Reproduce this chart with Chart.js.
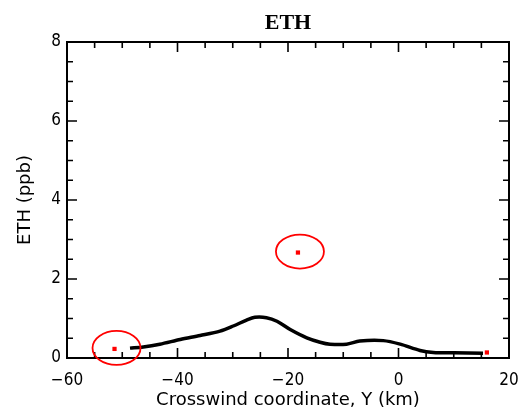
<!DOCTYPE html>
<html>
<head>
<meta charset="utf-8">
<script src="https://cdn.jsdelivr.net/npm/chart.js@4"></script>
<style>
  html, body { margin: 0; padding: 0; background: #fff; }
  #c { display: block; }
</style>
</head>
<body>
<canvas id="c" width="521" height="411"></canvas>
<script>
// ETH-Profil entlang der Querwind-Koordinate
const crossX = [-48.6, -46.2, -43.2, -39.5, -35.9, -32.3, -29.9, -27.5, -26.0, -23.9, -22.0, -19.6, -16.6, -14.2, -12.4, -9.4, -7.0, -2.75, 0.3, 3.9, 6.3, 10.0, 15.3];
const ethPpb = [0.25, 0.28, 0.35, 0.47, 0.57, 0.68, 0.81, 0.96, 1.03, 1.02, 0.93, 0.72, 0.51, 0.40, 0.35, 0.35, 0.43, 0.44, 0.35, 0.19, 0.14, 0.13, 0.12];

// Messpunkte (rot)
const sampleX = [-51.4, -18.2, 16.0];
const sampleY = [0.23, 2.67, 0.14];

// Achsen
const xTickLabels = [-60, -40, -20, 0, 20];
const yTickLabels = [0, 2, 4, 6, 8];

const FONT = "'DejaVu Sans Condensed', 'DejaVu Sans', sans-serif";
const TITLE_FONT = "'DejaVu Sans', sans-serif";

// Rahmen mit nach innen zeigenden Ticks, Titel und Ellipsen
const frame = {
  id: 'frame',
  afterDraw(chart) {
    const { ctx, chartArea: a, scales: { x, y } } = chart;
    ctx.save();
    ctx.strokeStyle = '#000';
    ctx.lineWidth = 2;
    ctx.strokeRect(a.left, a.top, a.right - a.left, a.bottom - a.top);
    ctx.lineWidth = 1.6;
    ctx.beginPath();
    x.ticks.forEach(t => {
      const px = x.getPixelForValue(t.value);
      const len = xTickLabels.includes(t.value) ? 10 : 6;
      ctx.moveTo(px, a.bottom); ctx.lineTo(px, a.bottom - len);
      ctx.moveTo(px, a.top); ctx.lineTo(px, a.top + len);
    });
    y.ticks.forEach(t => {
      const py = y.getPixelForValue(t.value);
      const len = yTickLabels.includes(t.value) ? 10 : 6;
      ctx.moveTo(a.left, py); ctx.lineTo(a.left + len, py);
      ctx.moveTo(a.right, py); ctx.lineTo(a.right - len, py);
    });
    ctx.stroke();

    // Ellipsen um die beiden markierten Punkte
    ctx.strokeStyle = '#ff0000';
    ctx.lineWidth = 1.8;
    [0, 1].forEach(i => {
      const cx = x.getPixelForValue(sampleX[i]) + 2;
      const cy = y.getPixelForValue(sampleY[i]) - 1;
      ctx.beginPath();
      ctx.ellipse(cx, cy, 24, 17, 0, 0, Math.PI * 2);
      ctx.stroke();
    });

    // Titel über der Plotfläche
    ctx.fillStyle = '#000';
    ctx.font = "bold 22px 'Liberation Serif', serif";
    ctx.textAlign = 'center';
    ctx.textBaseline = 'middle';
    ctx.fillText('ETH', (a.left + a.right) / 2, 23);
    ctx.restore();
  },
};

new Chart(document.getElementById('c'), {
  type: 'line',
  data: {
    datasets: [
      {
        label: 'ETH',
        data: crossX.map((v, i) => ({ x: v, y: ethPpb[i] })),
        borderColor: '#000',
        borderWidth: 3.5,
        pointRadius: 0,
        tension: 0.3,
        fill: false,
      },
      {
        label: 'Messung',
        type: 'scatter',
        data: sampleX.map((v, i) => ({ x: v, y: sampleY[i] })),
        backgroundColor: '#ff0000',
        borderColor: '#ff0000',
        pointStyle: 'rect',
        pointRadius: 3,
        borderWidth: 0,
      },
    ],
  },
  options: {
    responsive: false,
    animation: false,
    layout: { padding: { top: 42, right: 0, left: 0, bottom: 0 } },
    plugins: {
      legend: { display: false },
      tooltip: { enabled: false },
    },
    scales: {
      x: {
        type: 'linear',
        min: -60,
        max: 20,
        grid: { display: false, drawTicks: false },
        border: { display: false },
        ticks: {
          stepSize: 5,
          autoSkip: false,
          maxRotation: 0,
          padding: 12,
          color: '#000',
          font: { family: FONT, size: 17 },
          callback: v => xTickLabels.includes(v) ? String(v).replace('-', '\u2212') : '',
        },
        title: {
          display: true,
          text: 'Crosswind coordinate, Y (km)',
          color: '#000',
          font: { family: TITLE_FONT, size: 18 },
          padding: { top: 0, bottom: 0 },
        },
        afterFit: s => { s.height = 53; s.paddingRight = 12; s.paddingLeft = 0; },
      },
      y: {
        min: 0,
        max: 8,
        grid: { display: false, drawTicks: false },
        border: { display: false },
        ticks: {
          stepSize: 0.5,
          autoSkip: false,
          padding: 6,
          color: '#000',
          font: { family: FONT, size: 17 },
          callback: v => yTickLabels.includes(v) ? String(v) : '',
        },
        title: {
          display: true,
          text: 'ETH (ppb)',
          color: '#000',
          font: { family: TITLE_FONT, size: 18 },
          padding: { top: 15, bottom: 0 },
        },
        afterFit: s => { s.width = 67; },
      },
    },
  },
  plugins: [frame],
});
</script>
</body>
</html>
